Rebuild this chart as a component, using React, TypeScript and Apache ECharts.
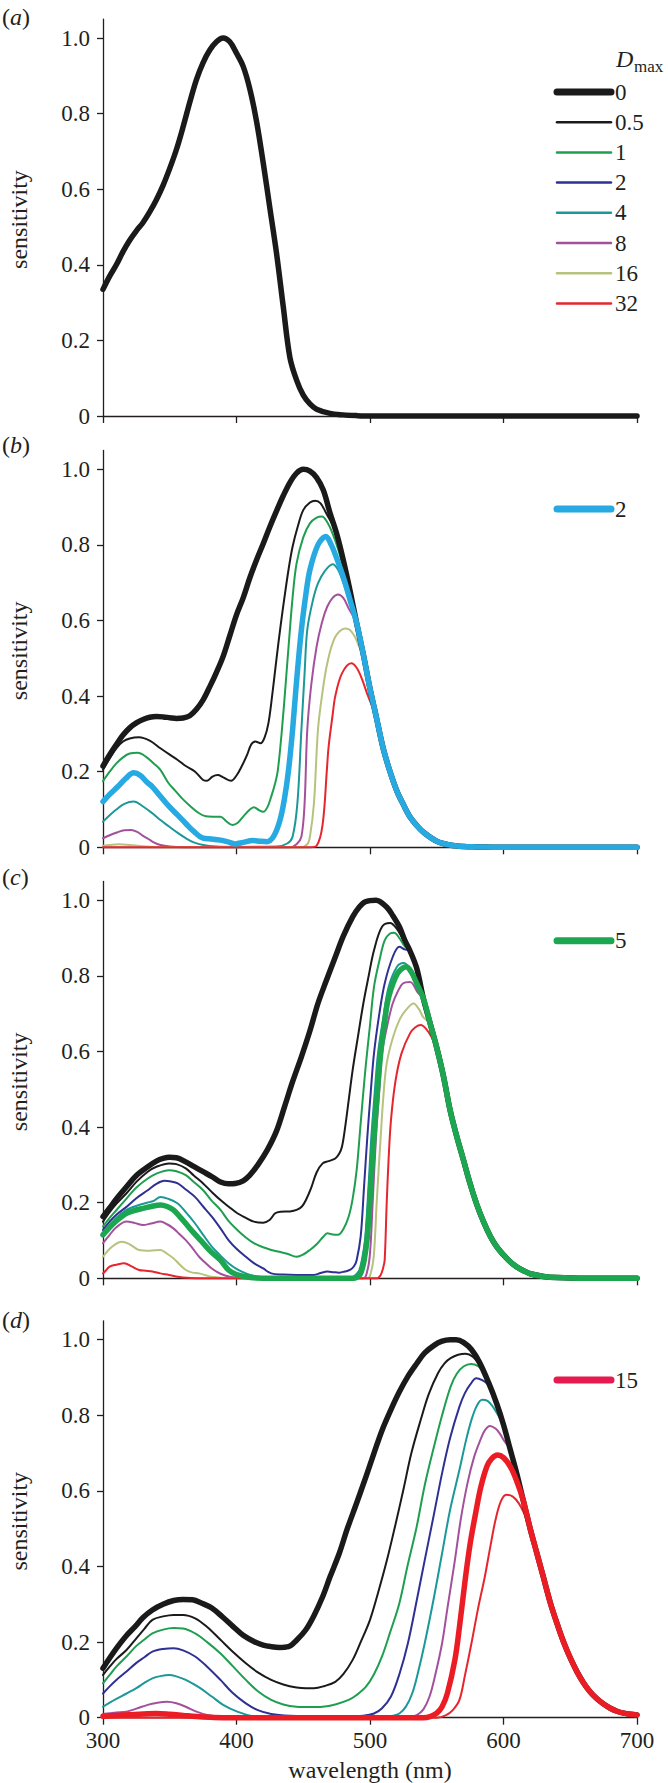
import React, { useEffect, useRef } from "react";
import * as echarts from "echarts";

type Pt = [number, number];

// ---------- axes ----------
const wavelengthTicks = [300, 400, 500, 600, 700];
const sensitivityTicks = [0, 0.2, 0.4, 0.6, 0.8, 1.0];
const legendLabels = ["0", "0.5", "1", "2", "4", "8", "16", "32"];
const panelLetters = ["a", "b", "c", "d"];
const highlightLabels = ["", "2", "5", "15"];

// ---------- panel (a) ----------
const a_D0: Pt[] = [[300,0.335],[305,0.37],[310,0.40],[315,0.435],[320,0.465],[325,0.49],[330,0.512],[335,0.54],[340,0.572],[345,0.61],[350,0.655],[355,0.705],[360,0.765],[365,0.83],[370,0.89],[375,0.935],[380,0.968],[385,0.99],[390,1.0],[395,0.99],[400,0.96],[405,0.925],[410,0.865],[415,0.78],[420,0.67],[425,0.55],[430,0.43],[435,0.29],[440,0.155],[445,0.095],[450,0.055],[455,0.032],[460,0.018],[470,0.007],[480,0.003],[490,0.001],[500,0],[600,0],[700,0]];

// ---------- panel (b) ----------
const b_tail: Pt[] = [[470,0.885],[475,0.83],[480,0.76],[485,0.68],[490,0.593],[495,0.51],[500,0.42],[505,0.34],[510,0.26],[515,0.2],[520,0.15],[525,0.113],[530,0.08],[535,0.058],[540,0.04],[550,0.016],[560,0.006],[570,0.002],[580,0.001],[600,0],[700,0]];
const b_D0: Pt[] = [[300,0.215],[305,0.245],[310,0.272],[315,0.297],[320,0.316],[325,0.329],[330,0.338],[335,0.344],[340,0.346],[345,0.345],[350,0.343],[355,0.341],[360,0.342],[365,0.348],[370,0.365],[375,0.39],[380,0.425],[385,0.463],[390,0.505],[395,0.56],[400,0.615],[405,0.66],[410,0.713],[415,0.76],[420,0.803],[425,0.848],[430,0.89],[435,0.93],[440,0.965],[445,0.99],[450,1.0],[455,0.995],[460,0.978],[465,0.945]];
const b_D05: Pt[] = [[300,0.205],[305,0.235],[310,0.262],[315,0.28],[320,0.288],[327,0.291],[335,0.282],[343,0.262],[350,0.245],[356,0.231],[362,0.215],[369,0.2],[375,0.178],[378,0.176],[382,0.187],[386,0.191],[390,0.185],[396,0.176],[400,0.19],[404,0.215],[408,0.245],[411,0.272],[414,0.28],[418,0.275],[421,0.29],[424,0.33],[427,0.41],[430,0.5],[433,0.585],[436,0.663],[439,0.735],[442,0.795],[446,0.85],[450,0.892],[455,0.912],[459,0.917],[463,0.91],[467,0.885]];
const b_D1: Pt[] = [[300,0.175],[305,0.2],[310,0.222],[315,0.238],[320,0.248],[326,0.25],[332,0.24],[338,0.222],[343,0.205],[349,0.17],[354,0.15],[359,0.13],[365,0.11],[372,0.09],[377,0.082],[382,0.081],[388,0.081],[392,0.07],[397,0.059],[401,0.065],[405,0.081],[410,0.1],[413,0.106],[417,0.098],[420,0.094],[423,0.105],[426,0.134],[429,0.17],[431,0.205],[434,0.31],[437,0.44],[439,0.531],[442,0.66],[445,0.751],[450,0.82],[455,0.857],[460,0.872],[464,0.875],[468,0.86],[472,0.83],[476,0.79],[480,0.74],[485,0.67]];
const b_D2: Pt[] = [[300,0.121],[305,0.14],[311,0.16],[317,0.182],[323,0.197],[328,0.19],[333,0.172],[337,0.16],[343,0.135],[349.5,0.108],[356,0.085],[362,0.063],[368,0.042],[375,0.024],[381,0.022],[388,0.019],[393,0.015],[399,0.009],[405,0.013],[412,0.018],[418,0.016],[423,0.015],[428,0.03],[432.6,0.072],[436,0.13],[439,0.205],[442,0.31],[445,0.44],[448.6,0.575],[452,0.67],[455,0.734],[461,0.8],[467,0.822],[471,0.8],[475,0.765],[480,0.715],[485,0.655]];
const b_D4: Pt[] = [[300,0.068],[305,0.085],[310,0.1],[316,0.115],[323,0.121],[330,0.108],[337,0.09],[343,0.072],[349.5,0.055],[356,0.038],[362,0.024],[368,0.013],[375,0.006],[385,0.002],[400,0.001],[430,0.002],[438,0.01],[442,0.028],[445.6,0.116],[448.6,0.31],[451,0.46],[453,0.575],[457,0.65],[461,0.698],[466,0.73],[472,0.749],[476,0.735],[480,0.70],[485,0.645]];
const b_D8: Pt[] = [[300,0.024],[305,0.032],[311,0.04],[316,0.045],[321,0.046],[326,0.04],[330,0.03],[334,0.022],[338,0.013],[343,0.006],[350,0.002],[360,0],[440,0],[445,0.008],[448.6,0.028],[451,0.116],[453,0.31],[456,0.43],[460,0.531],[464,0.595],[468,0.637],[472,0.66],[476,0.669],[480,0.66],[484,0.632]];
const b_D16: Pt[] = [[300,0.004],[305,0.006],[312,0.008],[320,0.006],[330,0.003],[340,0.001],[350,0],[448,0],[453,0.008],[455,0.028],[458,0.116],[461,0.31],[464,0.4],[468,0.487],[474,0.557],[481.5,0.579],[485,0.575],[489,0.555],[492,0.53]];
const b_D32: Pt[] = [[300,0],[455,0],[460,0.004],[464.5,0.06],[467.7,0.205],[469,0.266],[472,0.35],[474,0.4],[479,0.46],[486,0.487],[490,0.475],[494,0.445],[498,0.405]];

// ---------- panel (c) ----------
const c_tail: Pt[] = [[530,0.866],[535,0.82],[540,0.74],[545,0.675],[550,0.61],[555,0.535],[560,0.445],[565,0.375],[570,0.313],[575,0.25],[580,0.195],[585,0.15],[590,0.112],[595,0.083],[600,0.062],[605,0.044],[610,0.03],[615,0.02],[620,0.012],[630,0.005],[640,0.002],[660,0],[700,0]];
const c_D0: Pt[] = [[300,0.163],[305,0.186],[310,0.21],[317.6,0.242],[325,0.272],[333.5,0.295],[340,0.31],[345,0.317],[350,0.32],[355,0.319],[362,0.308],[368,0.296],[375,0.282],[382,0.268],[388,0.255],[394,0.25],[399,0.251],[405,0.258],[410,0.273],[416,0.3],[423,0.339],[430,0.39],[436,0.454],[442,0.52],[448.6,0.586],[455,0.655],[461,0.727],[467,0.785],[474,0.85],[480,0.905],[487,0.956],[492,0.982],[496.5,0.996],[504.5,1.0],[512.5,0.982],[517,0.96],[522,0.93],[526,0.895]];
const c_D05: Pt[] = [[300,0.15],[305,0.175],[310,0.197],[317.6,0.225],[325,0.255],[333.5,0.282],[340,0.295],[349.5,0.304],[355,0.302],[362,0.291],[368,0.272],[375,0.251],[381,0.23],[388,0.207],[394,0.19],[400.6,0.172],[407,0.16],[413,0.15],[420,0.147],[425,0.155],[429,0.172],[433,0.176],[440,0.177],[445,0.181],[449,0.19],[452,0.207],[456,0.24],[460,0.28],[464.5,0.304],[469,0.31],[474,0.317],[477,0.33],[479,0.348],[481,0.39],[484,0.47],[487,0.551],[491,0.64],[495,0.727],[499,0.8],[503,0.868],[509,0.93],[515,0.94],[520,0.925],[525,0.895]];
const c_D1: Pt[] = [[300,0.137],[305,0.16],[310,0.18],[317.6,0.211],[325,0.24],[333.5,0.264],[340,0.277],[349.5,0.286],[355,0.283],[362,0.273],[368,0.255],[375,0.233],[381,0.207],[388,0.181],[394,0.152],[400.6,0.128],[407,0.108],[413,0.093],[420,0.082],[426,0.075],[432,0.07],[438,0.065],[445,0.057],[450,0.063],[455,0.075],[460,0.09],[465,0.11],[468,0.119],[472,0.116],[476,0.115],[480,0.13],[484,0.163],[487,0.21],[490,0.286],[493,0.41],[496.5,0.551],[500,0.67],[503,0.771],[507,0.84],[511,0.894],[515,0.912],[518,0.914],[522,0.9],[526,0.878]];
const c_D2: Pt[] = [[300,0.128],[305,0.15],[310,0.168],[317.6,0.189],[325,0.212],[333.5,0.233],[340,0.25],[346,0.258],[351,0.256],[356,0.251],[362,0.235],[368.7,0.216],[375,0.19],[381.5,0.163],[388,0.132],[394,0.101],[400,0.078],[407,0.057],[413,0.04],[420,0.026],[426,0.013],[435,0.01],[445,0.009],[458,0.009],[463,0.014],[468,0.018],[473,0.016],[477,0.015],[481,0.018],[485,0.022],[488,0.032],[490,0.048],[493,0.11],[495.5,0.24],[498,0.374],[500.5,0.49],[503,0.595],[507,0.7],[511,0.78],[517,0.85],[522,0.877],[526,0.87]];
const c_D4: Pt[] = [[300,0.119],[305,0.14],[310,0.16],[317.6,0.181],[322,0.188],[327,0.194],[333,0.2],[338,0.205],[343,0.215],[349,0.21],[356,0.198],[362,0.175],[369,0.145],[375,0.115],[381.5,0.084],[388,0.06],[394,0.04],[400,0.025],[407,0.013],[415,0.005],[425,0.001],[440,0],[485,0],[489,0.008],[492,0.022],[494.5,0.06],[496.5,0.11],[499,0.25],[501,0.374],[503.5,0.49],[506,0.595],[510,0.69],[514,0.771],[520,0.823],[525,0.834],[530,0.82],[534,0.79]];
const c_D5: Pt[] = [[300,0.115],[305,0.135],[310,0.152],[317.6,0.172],[324,0.18],[330,0.185],[336,0.19],[343,0.194],[348,0.19],[352.7,0.181],[357,0.165],[362,0.145],[368,0.12],[375,0.093],[381,0.07],[388,0.048],[394,0.022],[400,0.01],[407,0.004],[415,0.001],[425,0],[488,0],[491,0.005],[493,0.013],[495.5,0.045],[498,0.11],[500.5,0.24],[503,0.374],[505.5,0.49],[508,0.595],[511,0.68],[514,0.744],[520.5,0.806],[527,0.824],[531,0.81],[535,0.78]];
const c_D8: Pt[] = [[300,0.093],[305,0.115],[310,0.135],[317.6,0.15],[324,0.146],[330,0.141],[336,0.145],[343,0.15],[348,0.143],[352.7,0.132],[357,0.118],[362,0.101],[367,0.08],[372,0.057],[377,0.04],[381.5,0.026],[388,0.012],[395,0.004],[405,0],[495,0],[498,0.02],[500,0.066],[502,0.2],[504.5,0.374],[507,0.5],[509,0.595],[513,0.67],[517,0.727],[521,0.76],[524.6,0.78],[530,0.784],[536,0.755]];
const c_D16: Pt[] = [[300,0.057],[305,0.078],[310,0.092],[314,0.097],[320,0.09],[327,0.075],[335,0.073],[343,0.075],[348,0.065],[352.7,0.053],[357,0.038],[362,0.022],[367,0.015],[372,0.013],[377,0.008],[381,0.004],[390,0.001],[400,0],[498,0],[501,0.02],[503,0.066],[505,0.2],[508,0.374],[510,0.48],[512.5,0.568],[517,0.635],[522,0.683],[527,0.71],[532.6,0.727],[537,0.71],[540,0.69]];
const c_D32: Pt[] = [[300,0.013],[302,0.02],[305,0.031],[310,0.036],[316,0.04],[321,0.032],[327,0.022],[332,0.02],[337,0.018],[343,0.013],[349.5,0.009],[355,0.005],[360,0.002],[370,0],[505,0],[508,0.009],[510,0.03],[511,0.048],[512.5,0.198],[514,0.32],[515.7,0.418],[519,0.52],[523.6,0.595],[530,0.648],[534,0.664],[538,0.67],[542,0.66],[546,0.639]];

// ---------- panel (d) ----------
const d_tail: Pt[] = [[595,0.83],[600,0.775],[605,0.71],[610,0.645],[615,0.572],[620,0.5],[625,0.435],[630,0.37],[635,0.305],[640,0.25],[645,0.2],[650,0.158],[655,0.122],[660,0.092],[665,0.068],[670,0.05],[675,0.036],[680,0.025],[685,0.017],[690,0.012],[695,0.009],[700,0.007]];
const d_D0: Pt[] = [[300,0.131],[305,0.158],[311,0.188],[317,0.215],[324,0.241],[330,0.265],[337,0.285],[345,0.3],[353,0.31],[360,0.313],[367,0.312],[374,0.303],[381.5,0.29],[390,0.265],[397.5,0.241],[405,0.218],[413.4,0.201],[420,0.192],[426,0.188],[432,0.186],[439,0.188],[445,0.205],[451.8,0.232],[458,0.27],[464.5,0.32],[470,0.372],[477,0.435],[483,0.5],[490,0.568],[497,0.638],[503,0.7],[509,0.76],[515.7,0.815],[522,0.862],[528.4,0.903],[535,0.937],[541,0.965],[548,0.985],[554,0.996],[560,1.0],[564.5,1.0],[570,0.993],[576,0.974],[582,0.94],[589,0.885]];
const d_D05: Pt[] = [[300,0.113],[305,0.135],[310,0.155],[317.6,0.179],[325,0.21],[331,0.235],[337,0.259],[345,0.268],[353,0.272],[360,0.272],[369,0.263],[378,0.24],[388,0.206],[397,0.175],[407,0.144],[416,0.12],[426,0.1],[435,0.088],[445,0.08],[452,0.078],[458,0.078],[466,0.084],[474,0.095],[480,0.115],[487,0.153],[493,0.2],[500,0.259],[506,0.33],[512.7,0.417],[519,0.51],[525,0.603],[531,0.7],[538,0.788],[544,0.856],[551,0.912],[556,0.938],[560.4,0.951],[566,0.96],[571.6,0.963],[577,0.955],[582.8,0.929],[587,0.9]];
const d_D1: Pt[] = [[300,0.091],[305,0.113],[310,0.135],[317.6,0.162],[325,0.19],[331,0.207],[337,0.223],[345,0.233],[353,0.237],[360,0.236],[369,0.223],[378,0.2],[388,0.17],[397,0.137],[407,0.1],[416,0.07],[426,0.047],[435,0.035],[445,0.029],[455,0.028],[464.5,0.029],[474,0.035],[484,0.047],[490,0.06],[497,0.082],[503,0.115],[509,0.162],[515,0.225],[522,0.303],[528,0.4],[535,0.506],[541,0.615],[548,0.718],[554,0.8],[560.4,0.876],[565,0.91],[570,0.929],[575.7,0.936],[581,0.93],[586,0.912],[590,0.88]];
const d_D2: Pt[] = [[300,0.064],[305,0.083],[310,0.1],[317.6,0.122],[325,0.145],[331,0.16],[337,0.175],[345,0.182],[353,0.184],[360,0.178],[369,0.162],[378,0.135],[388,0.1],[397,0.066],[407,0.038],[416,0.02],[426,0.01],[440,0.005],[460,0.003],[480,0.003],[495,0.005],[503,0.011],[509,0.025],[515.7,0.056],[522,0.115],[528.4,0.197],[535,0.31],[541,0.417],[548,0.54],[554,0.647],[560,0.74],[567,0.823],[571,0.858],[575,0.881],[579.6,0.898],[584,0.893],[588,0.882]];
const d_D4: Pt[] = [[300,0.029],[305,0.04],[310,0.05],[317.6,0.064],[325,0.078],[331,0.092],[337,0.104],[343,0.11],[349.5,0.113],[356,0.108],[362,0.1],[372,0.08],[381.5,0.056],[390,0.034],[400.6,0.016],[413,0.003],[425,0],[510,0],[516,0.004],[522,0.011],[527,0.03],[531.6,0.064],[536,0.12],[541,0.197],[548,0.32],[554,0.435],[560,0.55],[567,0.656],[572,0.735],[576,0.788],[580,0.825],[584,0.841],[588,0.838],[592,0.823],[596,0.8]];
const d_D8: Pt[] = [[300,0.01],[305,0.012],[310,0.014],[317.6,0.016],[325,0.024],[333.5,0.034],[340,0.039],[348,0.042],[355,0.038],[362,0.029],[370,0.016],[378,0.007],[388,0.002],[400,0],[525,0],[530,0.002],[535,0.007],[540,0.022],[544.6,0.056],[549,0.115],[554,0.197],[558,0.29],[563.6,0.417],[568,0.525],[573,0.62],[578,0.69],[582.7,0.735],[586,0.76],[589.8,0.772],[594,0.765],[597,0.753],[601,0.73]];
const d_D15: Pt[] = [[300,0.004],[310,0.006],[320,0.008],[330,0.01],[340,0.011],[350,0.009],[360,0.006],[370,0.003],[380,0.001],[390,0],[540,0],[545,0.003],[550,0.012],[554,0.029],[558,0.065],[563.6,0.153],[567,0.24],[571.6,0.373],[575,0.46],[579.6,0.55],[583,0.61],[587.6,0.665],[591,0.685],[595.5,0.695],[600,0.688],[605,0.665],[610,0.625],[614.7,0.576]];
const d_D32: Pt[] = [[300,0],[550,0],[557,0.007],[562,0.02],[567,0.047],[571,0.11],[576,0.197],[581,0.29],[586,0.373],[590,0.45],[594,0.523],[598,0.572],[602,0.59],[607,0.585],[611.5,0.567],[615.5,0.54],[619.5,0.506]];

// ---------- styling ----------
const FONT = "'Liberation Serif', 'Times New Roman', serif";
const INK = "#231f20";
const COL: Record<string, string> = {
  "0": "#1a1a1a", "0.5": "#1a1a1a", "1": "#1f9e50", "2": "#2e3192", "4": "#1b9898",
  "8": "#a3519c", "16": "#b7c27e", "32": "#e6262c",
  cyan: "#27a9e1", green5: "#1ba64f", red15: "#ec1c24", red15legend: "#e51b4f",
};
const THICK = 5.5;
const THIN = 2;
const FS = 23;

const withTail = (pts: Pt[], tail: Pt[], from: number): Pt[] =>
  pts.concat(tail.filter((p) => p[0] >= from));

// layout of the four panels (pixel positions)
const ZERO_Y = [416, 847.3, 1278.3, 1717.7];
const PX_PER_UNIT = 378;
const Y_MAX = 1.05;
const GRID_LEFT = 103;
const GRID_W = 534;
const GRID_H = Y_MAX * PX_PER_UNIT;
const LETTER_Y = [16.5, 445, 876.7, 1320];
const HL_Y = [0, 509, 940.7, 1380];

type S = { key: string; data: Pt[]; color: string; width: number };

const panels: S[][] = [
  [{ key: "0", data: a_D0, color: COL["0"], width: THICK }],
  [
    { key: "0.5", data: withTail(b_D05, b_tail, 475), color: COL["0.5"], width: THIN },
    { key: "1", data: withTail(b_D1, b_tail, 490), color: COL["1"], width: THIN },
    { key: "4", data: withTail(b_D4, b_tail, 490), color: COL["4"], width: THIN },
    { key: "8", data: withTail(b_D8, b_tail, 490), color: COL["8"], width: THIN },
    { key: "16", data: withTail(b_D16, b_tail, 495), color: COL["16"], width: THIN },
    { key: "32", data: withTail(b_D32, b_tail, 505), color: COL["32"], width: THIN },
    { key: "0", data: withTail(b_D0, b_tail, 470), color: COL["0"], width: THICK },
    { key: "2", data: withTail(b_D2, b_tail, 490), color: COL.cyan, width: THICK },
  ],
  [
    { key: "0.5", data: withTail(c_D05, c_tail, 530), color: COL["0.5"], width: THIN },
    { key: "1", data: withTail(c_D1, c_tail, 530), color: COL["1"], width: THIN },
    { key: "2", data: withTail(c_D2, c_tail, 530), color: COL["2"], width: THIN },
    { key: "4", data: withTail(c_D4, c_tail, 540), color: COL["4"], width: THIN },
    { key: "8", data: withTail(c_D8, c_tail, 540), color: COL["8"], width: THIN },
    { key: "16", data: withTail(c_D16, c_tail, 545), color: COL["16"], width: THIN },
    { key: "32", data: withTail(c_D32, c_tail, 550), color: COL["32"], width: THIN },
    { key: "0", data: withTail(c_D0, c_tail, 530), color: COL["0"], width: THICK },
    { key: "5", data: withTail(c_D5, c_tail, 540), color: COL.green5, width: THICK },
  ],
  [
    { key: "0.5", data: withTail(d_D05, d_tail, 595), color: COL["0.5"], width: THIN },
    { key: "1", data: withTail(d_D1, d_tail, 595), color: COL["1"], width: THIN },
    { key: "2", data: withTail(d_D2, d_tail, 595), color: COL["2"], width: THIN },
    { key: "4", data: withTail(d_D4, d_tail, 600), color: COL["4"], width: THIN },
    { key: "8", data: withTail(d_D8, d_tail, 605), color: COL["8"], width: THIN },
    { key: "32", data: withTail(d_D32, d_tail, 625), color: COL["32"], width: THIN },
    { key: "0", data: withTail(d_D0, d_tail, 595), color: COL["0"], width: THICK },
    { key: "15", data: withTail(d_D15, d_tail, 620), color: COL.red15, width: THICK },
  ],
];

function buildOption(): any {
  const grid: any[] = [];
  const xAxis: any[] = [];
  const yAxis: any[] = [];
  const series: any[] = [];
  const graphic: any[] = [];

  panels.forEach((list, i) => {
    const top = ZERO_Y[i] - GRID_H;
    grid.push({ left: GRID_LEFT, top, width: GRID_W, height: GRID_H, containLabel: false });
    xAxis.push({
      type: "value", gridIndex: i, min: 300, max: 700, interval: 100,
      axisLine: { show: true, onZero: false, lineStyle: { color: INK, width: 1.3 } },
      axisTick: { show: true, inside: false, length: 7, lineStyle: { color: INK, width: 1.3 }, customValues: wavelengthTicks },
      axisLabel: {
        show: i === 3, customValues: wavelengthTicks, margin: 11,
        fontFamily: FONT, fontSize: FS, color: INK,
      },
      splitLine: { show: false },
    });
    yAxis.push({
      type: "value", gridIndex: i, min: 0, max: Y_MAX, interval: 0.2,
      axisLine: { show: true, onZero: false, lineStyle: { color: INK, width: 1.3 } },
      axisTick: { show: true, inside: false, length: 6, lineStyle: { color: INK, width: 1.3 }, customValues: sensitivityTicks },
      axisLabel: {
        show: true, customValues: sensitivityTicks, margin: 13,
        fontFamily: FONT, fontSize: FS, color: INK,
        formatter: (v: number) => (v === 0 ? "0" : v.toFixed(1)),
      },
      splitLine: { show: false },
    });
    list.forEach((s) => {
      series.push({
        type: "line", name: `${panelLetters[i]}-${s.key}`,
        xAxisIndex: i, yAxisIndex: i, data: s.data,
        showSymbol: false, symbol: "none", smooth: 0.35, clip: false,
        lineStyle: { color: s.color, width: s.width, cap: "round", join: "round" },
        emphasis: { disabled: true }, silent: true,
      });
    });

    // panel letter
    graphic.push({
      type: "text", x: 2, y: LETTER_Y[i],
      style: {
        text: `{p|(}{i|${panelLetters[i]}}{p|)}`,
        verticalAlign: "middle", textVerticalAlign: "middle",
        rich: {
          p: { fontFamily: FONT, fontSize: 24, fill: INK },
          i: { fontFamily: FONT, fontSize: 24, fontStyle: "italic", fill: INK },
        },
      },
    });
    // y axis name
    graphic.push({
      type: "text", x: 19, y: ZERO_Y[i] - GRID_H / 2 + 2, rotation: Math.PI / 2,
      style: {
        text: "sensitivity", fontFamily: FONT, fontSize: 24, fill: INK,
        align: "center", textAlign: "center", verticalAlign: "middle", textVerticalAlign: "middle",
      },
    });
  });

  // legend of panel (a)
  graphic.push({
    type: "text", x: 616, y: 59,
    style: { text: "D", fontFamily: FONT, fontSize: 24, fontStyle: "italic", fill: INK, verticalAlign: "middle", textVerticalAlign: "middle" },
  });
  graphic.push({
    type: "text", x: 634, y: 66,
    style: { text: "max", fontFamily: FONT, fontSize: 17, fill: INK, verticalAlign: "middle", textVerticalAlign: "middle" },
  });
  legendLabels.forEach((lab, k) => {
    const y = 92 + k * 30.2;
    graphic.push({
      type: "line",
      shape: { x1: 557, y1: y, x2: 611, y2: y },
      style: { stroke: COL[lab], lineWidth: lab === "0" ? 7 : 2.5, lineCap: "round" },
    });
    graphic.push({
      type: "text", x: 615, y,
      style: { text: lab, fontFamily: FONT, fontSize: FS, fill: INK, verticalAlign: "middle", textVerticalAlign: "middle" },
    });
  });

  // highlight legends of panels (b)-(d)
  const hlColors = ["", COL.cyan, COL.green5, COL.red15legend];
  for (let i = 1; i < 4; i++) {
    graphic.push({
      type: "line",
      shape: { x1: 557, y1: HL_Y[i], x2: 611, y2: HL_Y[i] },
      style: { stroke: hlColors[i], lineWidth: 7, lineCap: "round" },
    });
    graphic.push({
      type: "text", x: 615, y: HL_Y[i],
      style: { text: highlightLabels[i], fontFamily: FONT, fontSize: FS, fill: INK, verticalAlign: "middle", textVerticalAlign: "middle" },
    });
  }

  // x axis name
  graphic.push({
    type: "text", x: 370, y: 1770,
    style: {
      text: "wavelength (nm)", fontFamily: FONT, fontSize: 24, fill: INK,
      align: "center", textAlign: "center", verticalAlign: "middle", textVerticalAlign: "middle",
    },
  });

  return {
    animation: false,
    backgroundColor: "#ffffff",
    grid, xAxis, yAxis, series, graphic,
  };
}

export default function App() {
  const ref = useRef<HTMLDivElement | null>(null);
  useEffect(() => {
    if (!ref.current) return;
    const chart = echarts.init(ref.current, undefined, { renderer: "svg" });
    chart.setOption(buildOption());
    return () => chart.dispose();
  }, []);
  return (
    <div
      ref={ref}
      style={{ position: "absolute", left: 0, top: 0, width: 668, height: 1783, background: "#fff" }}
    />
  );
}
